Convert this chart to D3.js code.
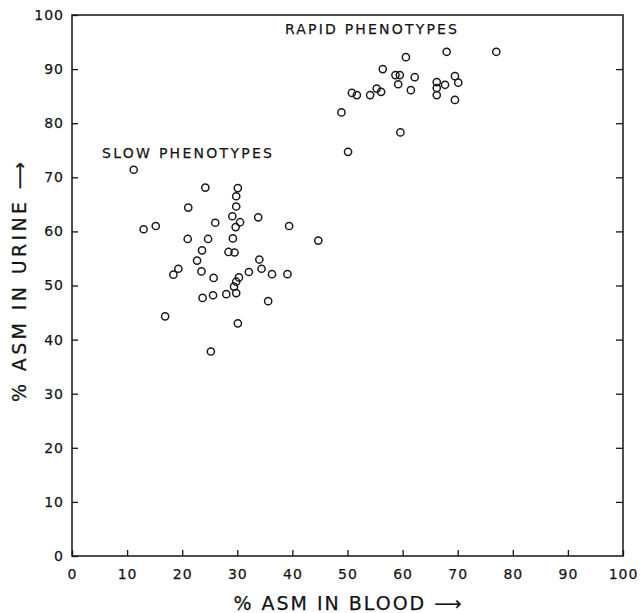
<!DOCTYPE html>
<html>
<head>
<meta charset="utf-8">
<script src="https://cdn.jsdelivr.net/npm/d3@7"></script>
<style>
  body { margin: 0; background: #fff; }
  text { font-family: "DejaVu Sans", sans-serif; fill: #151515; stroke: #151515; stroke-width: 0.25px; }
</style>
</head>
<body>
<div id="chart"></div>
<script>
// Dados: [% ASM no sangue, % ASM na urina]
const rapidPoints = [
  [68.0, 93.2], [77.0, 93.2], [60.6, 92.2], [56.4, 90.0], [58.7, 88.9],
  [59.5, 88.9], [62.2, 88.5], [59.2, 87.2], [61.5, 86.1], [66.2, 87.6],
  [66.2, 86.5], [66.2, 85.2], [67.7, 87.1], [69.5, 88.7], [70.1, 87.5],
  [69.5, 84.3], [55.3, 86.4], [56.1, 85.8], [54.1, 85.2], [50.8, 85.6],
  [51.7, 85.2], [48.9, 82.0], [59.6, 78.3], [50.1, 74.7]
];
const slowPoints = [
  [11.2, 71.4], [13.0, 60.4], [15.2, 61.0], [24.2, 68.1], [30.1, 68.0],
  [29.8, 66.5], [29.8, 64.6], [21.1, 64.4], [33.8, 62.6], [29.1, 62.8],
  [30.5, 61.7], [26.0, 61.6], [29.7, 60.8], [39.4, 61.0], [21.0, 58.6],
  [24.7, 58.6], [29.2, 58.7], [44.7, 58.3], [23.6, 56.5], [28.4, 56.2],
  [29.5, 56.1], [22.7, 54.6], [34.0, 54.8], [19.3, 53.1], [18.4, 52.0],
  [23.5, 52.6], [34.4, 53.1], [32.1, 52.5], [36.3, 52.1], [39.1, 52.1],
  [25.7, 51.4], [30.3, 51.5], [29.8, 50.7], [29.4, 49.8], [23.7, 47.7],
  [25.6, 48.2], [28.0, 48.4], [29.8, 48.6], [35.6, 47.1], [30.1, 43.0],
  [16.9, 44.3], [25.2, 37.8]
];
const xTicks = [0, 10, 20, 30, 40, 50, 60, 70, 80, 90, 100];
const yTicks = [0, 10, 20, 30, 40, 50, 60, 70, 80, 90, 100];

// Dimensões
const margin = { top: 15, right: 19, bottom: 57, left: 72 };
const width = 642 - margin.left - margin.right;
const height = 613 - margin.top - margin.bottom;

const svg = d3.select("#chart")
  .append("svg")
  .attr("width", 642)
  .attr("height", 613)
  .append("g")
  .attr("transform", `translate(${margin.left},${margin.top})`);

const xScale = d3.scaleLinear().domain([0, 100]).range([0, width]);
const yScale = d3.scaleLinear().domain([0, 100]).range([height, 0]);

// Eixos (ticks para dentro)
const xAxis = svg.append("g")
  .attr("transform", `translate(0,${height})`)
  .call(d3.axisBottom(xScale).tickValues(xTicks).tickSizeInner(-6).tickSizeOuter(0).tickPadding(13));

const yAxis = svg.append("g")
  .call(d3.axisLeft(yScale).tickValues(yTicks).tickSizeInner(-6).tickSizeOuter(0).tickPadding(8));

svg.append("g")
  .attr("transform", `translate(${width},0)`)
  .call(d3.axisRight(yScale).tickValues(yTicks.slice(1, -1)).tickSizeInner(-7).tickSizeOuter(0).tickFormat(""));

[xAxis, yAxis].forEach(a => {
  a.selectAll("text")
    .style("font-size", "14px")
    .style("letter-spacing", "1px")
    .attr("fill", "#151515");
});
svg.selectAll(".domain").remove();
svg.selectAll(".tick line").attr("stroke", "#151515").attr("stroke-width", 1.3);

// Moldura
svg.append("rect")
  .attr("x", 0).attr("y", 0)
  .attr("width", width).attr("height", height)
  .attr("fill", "none")
  .attr("stroke", "#151515")
  .attr("stroke-width", 1.5);

// Pontos
svg.selectAll(".dot")
  .data(rapidPoints.concat(slowPoints))
  .enter().append("circle")
  .attr("class", "dot")
  .attr("cx", d => xScale(d[0]))
  .attr("cy", d => yScale(d[1]))
  .attr("r", 3.6)
  .attr("fill", "none")
  .attr("stroke", "#1a1a1a")
  .attr("stroke-width", 1.5);

// Rótulos dos grupos
svg.append("text")
  .attr("x", 213)
  .attr("y", 19)
  .attr("textLength", 172)
  .style("font-size", "14px")
  .text("RAPID PHENOTYPES");

svg.append("text")
  .attr("x", 30)
  .attr("y", 143)
  .attr("textLength", 170)
  .style("font-size", "14px")
  .text("SLOW PHENOTYPES");

// Títulos dos eixos
svg.append("text")
  .attr("text-anchor", "middle")
  .attr("x", xScale(50))
  .attr("y", height + 54)
  .attr("textLength", 228)
  .style("font-size", "19px")
  .text("% ASM IN BLOOD ⟶");

svg.append("text")
  .attr("text-anchor", "middle")
  .attr("transform", "rotate(-90)")
  .attr("x", -(282 - margin.top))
  .attr("y", -margin.left + 26)
  .attr("textLength", 240)
  .style("font-size", "19px")
  .text("% ASM IN URINE ⟶");
</script>
</body>
</html>
